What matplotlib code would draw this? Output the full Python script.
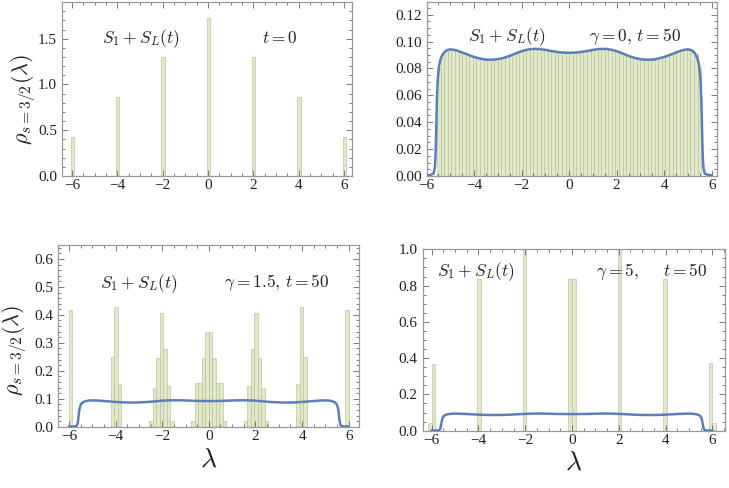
import matplotlib
matplotlib.use('Agg')
import matplotlib.pyplot as plt
from matplotlib.ticker import MultipleLocator, FuncFormatter, FormatStrFormatter

plt.rcParams['mathtext.fontset'] = 'cm'
plt.rcParams['font.family'] = ['Liberation Serif', 'DejaVu Serif']

# ---------------- data ----------------
BIN_W = 0.15

# top-left: t = 0
tl_left = [-6.06, -4.06, -2.06, -0.06, 1.94, 3.94, 5.94]
tl_heights = [0.43, 0.866, 1.30, 1.73, 1.30, 0.866, 0.43]
tl_width = 0.144

# top-right: gamma = 0, t = 50 (bins of width 0.15 starting at -5.55)
tr_left = [-5.55, -5.40, -5.25, -5.10, -4.95, -4.80, -4.65, -4.50, -4.35, -4.20,
           -4.05, -3.90, -3.75, -3.60, -3.45, -3.30, -3.15, -3.00, -2.85, -2.70,
           -2.55, -2.40, -2.25, -2.10, -1.95, -1.80, -1.65, -1.50, -1.35, -1.20,
           -1.05, -0.90, -0.75, -0.60, -0.45, -0.30, -0.15,
           0.00, 0.15, 0.30, 0.45, 0.60, 0.75, 0.90, 1.05, 1.20, 1.35,
           1.50, 1.65, 1.80, 1.95, 2.10, 2.25, 2.40, 2.55, 2.70, 2.85,
           3.00, 3.15, 3.30, 3.45, 3.60, 3.75, 3.90, 4.05, 4.20, 4.35,
           4.50, 4.65, 4.80, 4.95, 5.10, 5.25, 5.40]
tr_heights = [0.080, 0.0910, 0.0935, 0.0940, 0.0935, 0.0930, 0.0923, 0.0913, 0.0903, 0.0893,
              0.0885, 0.0876, 0.0870, 0.0866, 0.0864, 0.0865, 0.0867, 0.0871, 0.0877, 0.0886,
              0.0895, 0.0905, 0.0916, 0.0926, 0.0934, 0.0940, 0.0944, 0.0945, 0.0944, 0.0941,
              0.0937, 0.0932, 0.0927, 0.0922, 0.0919, 0.0917, 0.0916,
              0.0916, 0.0917, 0.0919, 0.0922, 0.0927, 0.0932, 0.0937, 0.0941, 0.0944, 0.0945,
              0.0944, 0.0940, 0.0934, 0.0926, 0.0916, 0.0905, 0.0895, 0.0886, 0.0877, 0.0871,
              0.0867, 0.0865, 0.0864, 0.0866, 0.0870, 0.0876, 0.0885, 0.0893, 0.0903, 0.0913,
              0.0923, 0.0930, 0.0935, 0.0940, 0.0935, 0.0910, 0.080]

# bottom-left: gamma = 1.5, t = 50
bl_left = [-6.00,
           -4.20, -4.05, -3.90,
           -2.55, -2.40, -2.25, -2.10, -1.95, -1.80, -1.65,
           -0.75, -0.60, -0.45, -0.30, -0.15, 0.00, 0.15, 0.30, 0.45, 0.60,
           1.50, 1.65, 1.80, 1.95, 2.10, 2.25, 2.40,
           3.75, 3.90, 4.05,
           5.85]
bl_heights = [0.418,
              0.248, 0.429, 0.153,
              0.020, 0.137, 0.245, 0.405, 0.278, 0.147, 0.020,
              0.022, 0.155, 0.155, 0.245, 0.340, 0.340, 0.245, 0.155, 0.155, 0.022,
              0.020, 0.147, 0.278, 0.405, 0.245, 0.137, 0.020,
              0.153, 0.429, 0.248,
              0.418]

# bottom-right: gamma = 5, t = 50
br_left = [-6.15, -6.00, -4.05, -2.10, -0.15, 0.00, 1.95, 3.90, 5.85, 6.00]
br_heights = [0.044, 0.370, 0.835, 1.25, 0.835, 0.835, 1.25, 0.835, 0.375, 0.044]

# smooth density curve (same in all t = 50 panels)
curve_x = [-6.00, -5.90, -5.80, -5.70, -5.65, -5.62, -5.59, -5.56, -5.52, -5.47,
           -5.40, -5.30, -5.15, -5.00, -4.80, -4.60, -4.40, -4.20, -4.00, -3.80,
           -3.60, -3.40, -3.20, -3.00, -2.80, -2.60, -2.40, -2.20, -2.00, -1.80,
           -1.60, -1.40, -1.20, -1.00, -0.80, -0.60, -0.40, -0.20, 0.00,
           0.20, 0.40, 0.60, 0.80, 1.00, 1.20, 1.40, 1.60, 1.80, 2.00,
           2.20, 2.40, 2.60, 2.80, 3.00, 3.20, 3.40, 3.60, 3.80, 4.00,
           4.20, 4.40, 4.60, 4.80, 5.00, 5.15, 5.30, 5.40, 5.47, 5.52,
           5.56, 5.59, 5.62, 5.65, 5.70, 5.80, 5.90, 6.00]
curve_y = [0.0005, 0.0007, 0.0010, 0.0020, 0.0060, 0.0150, 0.0350, 0.0580, 0.0730, 0.0820,
           0.0875, 0.0910, 0.0935, 0.0942, 0.0937, 0.0925, 0.0912, 0.0898, 0.0885, 0.0875,
           0.0868, 0.0865, 0.0865, 0.0869, 0.0876, 0.0887, 0.0900, 0.0915, 0.0928, 0.0938,
           0.0944, 0.0945, 0.0943, 0.0938, 0.0931, 0.0925, 0.0920, 0.0917, 0.0916,
           0.0917, 0.0920, 0.0925, 0.0931, 0.0938, 0.0943, 0.0945, 0.0944, 0.0938, 0.0928,
           0.0915, 0.0900, 0.0887, 0.0876, 0.0869, 0.0865, 0.0865, 0.0868, 0.0875, 0.0885,
           0.0898, 0.0912, 0.0925, 0.0937, 0.0942, 0.0935, 0.0910, 0.0875, 0.0820, 0.0730,
           0.0580, 0.0350, 0.0150, 0.0060, 0.0020, 0.0010, 0.0007, 0.0005]

x_ticks = [-6, -4, -2, 0, 2, 4, 6]

# ---------------- styling ----------------
BAR_FACE = '#e0e8c8'
BAR_EDGE = '#bec6a4'
LINE_C = '#5a7fba'
FRAME_C = '#9a9a9a'
TXT_C = '#222222'

fig = plt.figure(figsize=(7.29, 4.88), dpi=100)
W, H = 729.0, 488.0


def make_ax(l, r, t, b):
    return fig.add_axes([l / W, 1 - b / H, (r - l) / W, (b - t) / H])


def minus_fmt(v, p):
    return f"{v:.0f}".replace('-', '\u2212')


def style(ax, xlim, ylim, ymajor, yminor, yfmt):
    ax.set_xlim(*xlim)
    ax.set_ylim(*ylim)
    ax.set_xticks(x_ticks)
    ax.xaxis.set_major_formatter(FuncFormatter(minus_fmt))
    ax.xaxis.set_minor_locator(MultipleLocator(0.5))
    ax.yaxis.set_major_locator(MultipleLocator(ymajor))
    ax.yaxis.set_minor_locator(MultipleLocator(yminor))
    ax.yaxis.set_major_formatter(FormatStrFormatter(yfmt))
    for s in ax.spines.values():
        s.set_color(FRAME_C)
        s.set_linewidth(0.9)
    ax.tick_params(which='both', direction='in', top=True, right=True,
                   color='#666666', width=0.6)
    ax.tick_params(which='major', length=4, labelsize=11, labelcolor=TXT_C)
    ax.tick_params(axis='x', which='major', pad=2.5)
    ax.tick_params(axis='y', which='major', pad=3.5)
    ax.tick_params(which='minor', length=2.2)


# top-left
ax1 = make_ax(62, 352, 2.5, 176)
ax1.bar(tl_left, tl_heights, width=tl_width, align='edge', color=BAR_FACE,
        edgecolor=BAR_EDGE, linewidth=0.5)
style(ax1, (-6.44, 6.35), (0, 1.895), 0.5, 0.1, '%.1f')
ax1.text(0.27, 0.79, r'$S_1+S_L(t)$', transform=ax1.transAxes, ha='center',
         va='center', fontsize=12.5, color=TXT_C)
ax1.text(0.75, 0.79, r'$t=0$', transform=ax1.transAxes, ha='center',
         va='center', fontsize=12.5, color=TXT_C)
ax1.set_ylabel(r'$\rho_{s=3/2}(\lambda)$', fontsize=16, color=TXT_C)
ax1.yaxis.set_label_coords(-0.083, 0.44)

# top-right
ax2 = make_ax(426.5, 717, 2.5, 176)
ax2.bar(tr_left, tr_heights, width=BIN_W, align='edge', color=BAR_FACE,
        edgecolor=BAR_EDGE, linewidth=0.5)
ax2.plot(curve_x, curve_y, color=LINE_C, lw=1.8, zorder=3)
style(ax2, (-6.0, 6.22), (0, 0.129), 0.02, 0.005, '%.2f')
ax2.text(0.278, 0.805, r'$S_1+S_L(t)$', transform=ax2.transAxes, ha='center',
         va='center', fontsize=12.5, color=TXT_C)
ax2.text(0.717, 0.805, r'$\gamma=0,\, t=50$', transform=ax2.transAxes, ha='center',
         va='center', fontsize=12.5, color=TXT_C)

# bottom-left
ax3 = make_ax(58, 358.5, 245, 426.7)
ax3.bar(bl_left, bl_heights, width=BIN_W, align='edge', color=BAR_FACE,
        edgecolor=BAR_EDGE, linewidth=0.5)
ax3.plot(curve_x, curve_y, color=LINE_C, lw=1.8, zorder=3)
style(ax3, (-6.47, 6.42), (0, 0.65), 0.1, 0.02, '%.1f')
ax3.text(0.27, 0.79, r'$S_1+S_L(t)$', transform=ax3.transAxes, ha='center',
         va='center', fontsize=12.5, color=TXT_C)
ax3.text(0.727, 0.79, r'$\gamma=1.5,\, t=50$', transform=ax3.transAxes, ha='center',
         va='center', fontsize=12.5, color=TXT_C)
ax3.set_ylabel(r'$\rho_{s=3/2}(\lambda)$', fontsize=16, color=TXT_C)
ax3.yaxis.set_label_coords(-0.095, 0.42)
ax3.set_xlabel(r'$\lambda$', fontsize=20, color=TXT_C)
ax3.xaxis.set_label_coords(0.5, -0.115)

# bottom-right
ax4 = make_ax(422.5, 725, 249.3, 430.7)
ax4.bar(br_left, br_heights, width=BIN_W, align='edge', color=BAR_FACE,
        edgecolor=BAR_EDGE, linewidth=0.5)
ax4.plot(curve_x, curve_y, color=LINE_C, lw=1.8, zorder=3)
style(ax4, (-6.39, 6.54), (0, 1.0), 0.2, 0.05, '%.1f')
ax4.text(0.176, 0.875, r'$S_1+S_L(t)$', transform=ax4.transAxes, ha='center',
         va='center', fontsize=12.5, color=TXT_C)
ax4.text(0.643, 0.875, r'$\gamma=5,$', transform=ax4.transAxes, ha='center',
         va='center', fontsize=12.5, color=TXT_C)
ax4.text(0.868, 0.875, r'$t=50$', transform=ax4.transAxes, ha='center',
         va='center', fontsize=12.5, color=TXT_C)
ax4.set_xlabel(r'$\lambda$', fontsize=20, color=TXT_C)
ax4.xaxis.set_label_coords(0.5, -0.11)

fig.savefig('out.png', dpi=100)
